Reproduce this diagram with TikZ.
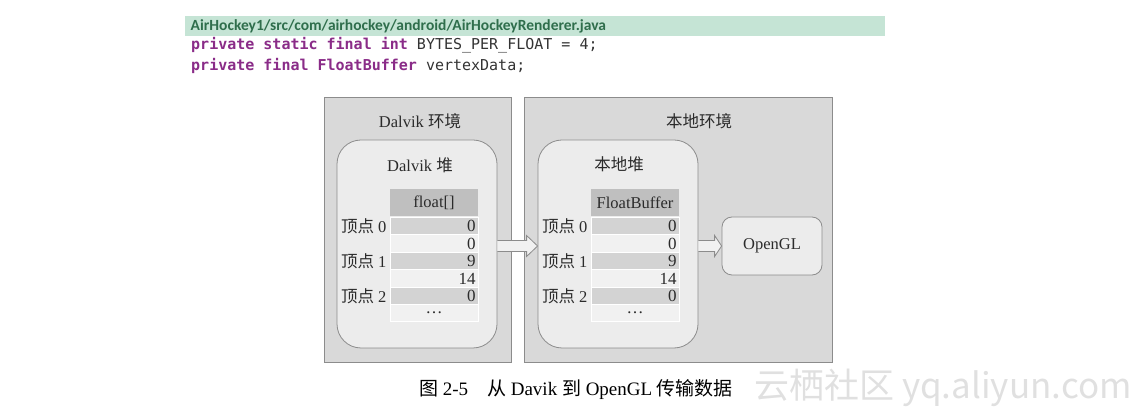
\documentclass[tikz,border=0pt]{standalone}
\usepackage{fontspec}
\setmainfont{Liberation Serif}
\newfontfamily\cjkfont{Noto Sans CJK SC}
\newfontfamily\codefont{DejaVu Sans Mono}
\newfontfamily\headfont{Carlito}
\usetikzlibrary{positioning,calc}
\definecolor{headgreen}{HTML}{C5E4D5}
\definecolor{pathgreen}{HTML}{2F6E4C}
\definecolor{keyword}{HTML}{8A2C88}
\definecolor{codegray}{HTML}{333333}
\definecolor{envgray}{HTML}{D9D9D9}
\definecolor{heapgray}{HTML}{ECECEC}
\definecolor{edgegray}{HTML}{8C8C8C}
\definecolor{headcell}{HTML}{BFBFBF}
\definecolor{darkcell}{HTML}{D3D3D3}
\definecolor{lightcell}{HTML}{F1F1F1}
\definecolor{inkgray}{HTML}{2B2B2B}
\newcommand{\zh}[1]{{\cjkfont #1}}
\newcommand{\kw}[1]{\textcolor{keyword}{\bfseries #1}}
\newcommand{\blockarrow}[3][11]{%
  \path[hollow] ($(#2)+(0,-5.5)$) -- ($(#3)+(-#1,-5.5)$) -- ($(#3)+(-#1,-10.5)$)
    -- (#3) -- ($(#3)+(-#1,10.5)$) -- ($(#3)+(-#1,5.5)$) -- ($(#2)+(0,5.5)$);}

\begin{document}
\begin{tikzpicture}[x=1pt, y=-1pt,
  every node/.style={text=inkgray},
  title/.style={font=\fontsize{16.5pt}{19pt}\selectfont, inner sep=0pt},
  pathbar/.style={fill=headgreen, minimum width=700pt, minimum height=20pt,
                  text width=689pt, inner xsep=5.5pt, align=left, text=pathgreen,
                  font=\headfont\bfseries\fontsize{15.5pt}{17pt}\selectfont},
  codeline/.style={inner sep=0pt, text=codegray,
                   font=\codefont\fontsize{15pt}{17pt}\selectfont},
  envbox/.style={draw=edgegray, fill=envgray, line width=0.8pt, inner sep=0pt,
                 minimum height=265pt},
  heap/.style={draw=edgegray, fill=heapgray, line width=0.8pt, rounded corners=24pt,
               inner sep=0pt, minimum width=160pt, minimum height=208pt},
  cellhead/.style={fill=headcell, minimum width=88pt, minimum height=27pt,
                   inner sep=0pt, font=\fontsize{16.5pt}{19pt}\selectfont},
  cell/.style={draw=white, line width=0.8pt, minimum height=17.4pt, text width=83pt,
               inner xsep=2.5pt, inner ysep=0pt, align=right,
               font=\fontsize{17pt}{17pt}\selectfont},
  rowdark/.style={cell, fill=darkcell},
  rowlight/.style={cell, fill=lightcell},
  vlabel/.style={title},
  glbox/.style={draw=edgegray, fill=heapgray, line width=0.8pt, rounded corners=10pt,
                minimum width=100pt, minimum height=58pt, inner sep=0pt,
                font=\fontsize{16.5pt}{19pt}\selectfont},
  hollow/.style={draw=edgegray, fill=lightcell, line width=0.8pt, line join=miter},
  caption/.style={inner sep=0pt, text=black, font=\fontsize{19pt}{22pt}\selectfont},
  watermark/.style={inner sep=0pt, text=black!12,
                    font=\cjkfont\fontsize{35pt}{37pt}\selectfont}
]
  \useasboundingbox (0,0) rectangle (1141,411);

  % source listing above the figure
  \node[pathbar, anchor=west] (pathbar) at (185,26)
    {AirHockey1/src/com/airhockey/android/AirHockeyRenderer.java};
  \node[codeline, anchor=west] (codeA) at (191,45)
    {\kw{private static final int} BYTES\_PER\_FLOAT = 4;};
  \node[codeline, anchor=west] (codeB) at (191,66)
    {\kw{private final FloatBuffer} vertexData;};

  % the two environments
  \node[envbox, minimum width=187pt] (dalvikenv) at (417.5,229.5) {};
  \node[envbox, minimum width=308pt] (nativeenv) at (678,229.5) {};
  \node[title] (dalviktitle) at (420,121) {Dalvik \zh{环境}};
  \node[title] (nativetitle) at (699,121) {\zh{本地环境}};

  \node[heap] (dalvikheap) at (417,244) {};
  \node[heap] (nativeheap) at (618,244) {};
  \node[title] (dalvikheaptitle) at (420,165) {Dalvik \zh{堆}};
  \node[title] (nativeheaptitle) at (619,164) {\zh{本地堆}};

  % vertex tables
  \node[cellhead] (d-head) at (434,203) {float[]};
  \node[cellhead] (n-head) at (635,203) {FloatBuffer};
  \foreach \t/\cx in {d/434, n/635} {
    \node[rowdark] (\t-row1) at (\cx,226.2) {0};
    \node[rowlight] (\t-row2) at (\cx,243.6) {0};
    \node[rowdark] (\t-row3) at (\cx,261) {9};
    \node[rowlight] (\t-row4) at (\cx,278.4) {14};
    \node[rowdark] (\t-row5) at (\cx,295.8) {0};
    \node[rowlight, align=center] (\t-row6) at (\cx,313.2) {\dots};
    \node[vlabel, left=3pt of \t-row1] (\t-vert0) {\zh{顶点} 0};
    \node[vlabel, left=3pt of \t-row3] (\t-vert1) {\zh{顶点} 1};
    \node[vlabel, left=3pt of \t-row5] (\t-vert2) {\zh{顶点} 2};
  }

  \node[glbox] (opengl) at (772,246) {OpenGL};

  % transfer arrows
  \coordinate (dalvikout) at (dalvikheap.east |- opengl.west);
  \coordinate (nativein) at (nativeheap.west |- opengl.west);
  \coordinate (nativeout) at (nativeheap.east |- opengl.west);
  \blockarrow{dalvikout}{nativein}
  \blockarrow[7]{nativeout}{opengl.west}

  \node[caption] (caption) at (576,390)
    {\zh{图} 2-5\quad\zh{从} Davik \zh{到} OpenGL \zh{传输数据}};
  \node[watermark] (mark) at (943,388) {云栖社区 yq.aliyun.com};
\end{tikzpicture}
\end{document}
